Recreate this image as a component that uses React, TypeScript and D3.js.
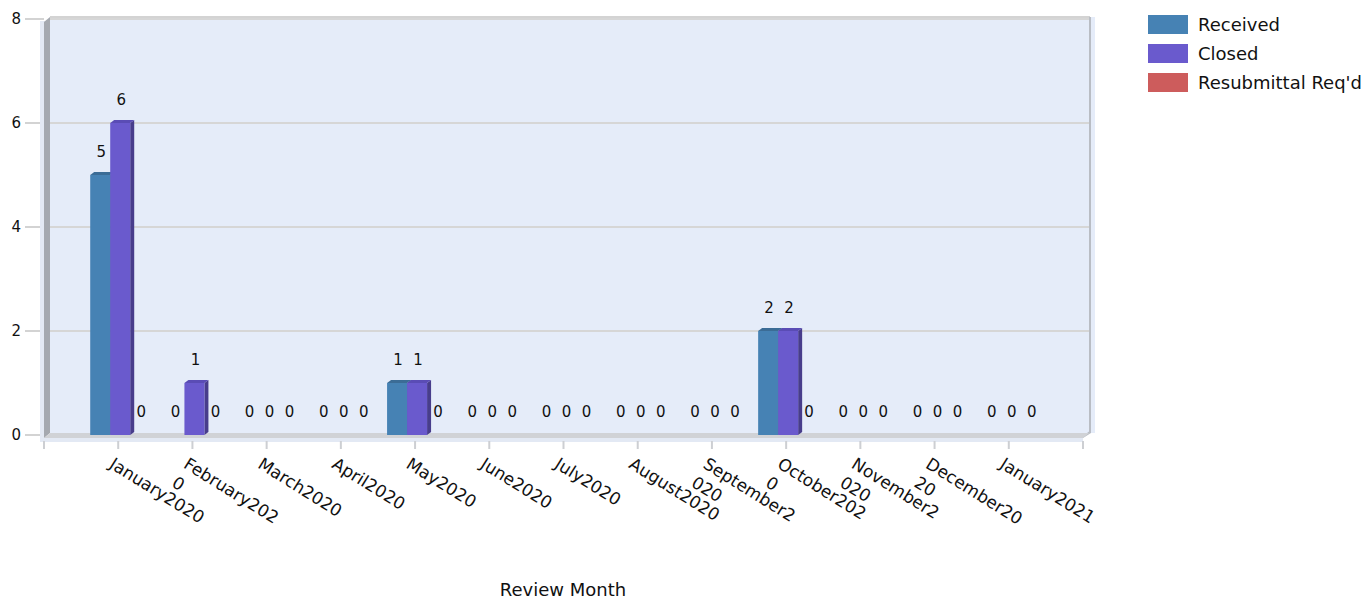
import React from 'react';
import * as d3 from 'd3';

// months on the x axis, with the wrapped lines the chart shows for each
const months = [
  'January2020', 'February2020', 'March2020', 'April2020', 'May2020', 'June2020', 'July2020',
  'August2020', 'September2020', 'October2020', 'November2020', 'December2020', 'January2021',
];
const monthLines = [
  ['January2020'], ['February202', '0'], ['March2020'], ['April2020'], ['May2020'], ['June2020'],
  ['July2020'], ['August2020'], ['September2', '020'], ['October202', '0'], ['November2', '020'],
  ['December20', '20'], ['January2021'],
];

const received = [5, 0, 0, 0, 1, 0, 0, 0, 0, 2, 0, 0, 0];
const closed = [6, 1, 0, 0, 1, 0, 0, 0, 0, 2, 0, 0, 0];
const resubmittal = [0, 0, 0, 0, 0, 0, 0, 0, 0, 0, 0, 0, 0];

const yTicks = [0, 2, 4, 6, 8];

const series = [
  { name: 'Received', values: received, color: '#4682B4', side: '#36648B', top: '#3B6C96' },
  { name: 'Closed', values: closed, color: '#6A5ACD', side: '#483D8B', top: '#5A4CB5' },
  { name: "Resubmittal Req'd", values: resubmittal, color: '#CD5C5C', side: '#9E4444', top: '#B55050' },
];

const W = 1370;
const H = 602;
const FONT = '"DejaVu Sans", Verdana, sans-serif';

export default function App() {
  // front plane (floor edge, ticks) vs back wall: 3D offset
  const dx = 6;
  const dy = 5;
  const left = 44;
  const right = 1083;
  const top = 17;
  const bottom = 438;

  const x = d3.scaleLinear().domain([0, months.length + 1]).range([left, right]);
  const y = d3.scaleLinear().domain([0, 8]).range([435, 19]);
  const barW = 20;
  const depthX = 4;
  const depthY = 3;

  return (
    <svg width={W} height={H} style={{ position: 'absolute', left: 0, top: 0, background: '#fff' }} fontFamily={FONT}>
      {/* back wall */}
      <rect x={left + dx} y={top} width={right + dx - left} height={bottom - dy - top} fill="#E5ECF9" />
      <line x1={left + dx} x2={right + dx + 1} y1={top} y2={top} stroke="#D3D3D3" strokeWidth={2} />
      {yTicks.slice(1).map((t) => (
        <g key={t}>
          <line x1={left + dx} x2={right + dx} y1={y(t)} y2={y(t)} stroke="#D6D6D6" strokeWidth={2} />
          <line x1={25} x2={left} y1={y(t)} y2={y(t)} stroke="#D3D3D3" strokeWidth={2} />
        </g>
      ))}
      <line x1={25} x2={left} y1={y(0)} y2={y(0)} stroke="#D3D3D3" strokeWidth={2} />
      {/* right edge */}
      <line x1={right + dx + 1} x2={right + dx + 1} y1={top} y2={bottom - dy} stroke="#B9BDC4" strokeWidth={2} />
      <polygon
        points={`${right},${bottom} ${right + dx + 2},${bottom - dy} ${right + dx + 2},${bottom - dy - 3} ${right},${bottom - 2}`}
        fill="#B9BDC4"
      />
      {/* left wall */}
      <rect x={left - 4} y={top + 4} width={5} height={bottom - top} fill="#E3E9F4" />
      <polygon
        points={`${left},${top + dy} ${left + dx},${top} ${left + dx},${bottom - dy} ${left},${bottom}`}
        fill="#A5A9B0"
      />
      {/* floor */}
      <polygon
        points={`${left},${bottom} ${left + dx},${bottom - dy} ${right + dx},${bottom - dy} ${right},${bottom}`}
        fill="#D0D2D6"
      />
      <rect x={left - 4} y={bottom} width={right - left + 4} height={4} fill="#E3E9F4" />

      {/* x ticks */}
      {d3.range(0, months.length + 2).map((i) => (
        <line key={i} x1={x(i)} x2={x(i)} y1={bottom + 3} y2={bottom + 11} stroke="#CDCFD3" strokeWidth={2} />
      ))}

      {/* bars */}
      {months.map((m, k) => {
        const cx = x(k + 1) + 2;
        const x0 = cx - (barW * series.length) / 2;
        return (
          <g key={m}>
            {series.map((s, j) => {
              const v = s.values[k];
              const bx = x0 + j * barW;
              const by = y(v);
              const base = y(0);
              return (
                <g key={s.name}>
                  {v > 0 && (
                    <>
                      <polygon
                        points={`${bx + barW},${by} ${bx + barW + depthX},${by - depthY} ${bx + barW + depthX},${base - depthY} ${bx + barW},${base}`}
                        fill={s.side}
                      />
                      <polygon
                        points={`${bx},${by} ${bx + depthX},${by - depthY} ${bx + barW + depthX},${by - depthY} ${bx + barW},${by}`}
                        fill={s.top}
                      />
                      <rect x={bx} y={by} width={barW} height={base - by} fill={s.color} />
                    </>
                  )}
                  <text x={bx + barW / 2 + 1} y={by - 18} textAnchor="middle" fontSize={15} fill="#111">
                    {v}
                  </text>
                </g>
              );
            })}
          </g>
        );
      })}

      {/* y tick labels */}
      {yTicks.map((t) => (
        <text key={t} x={21} y={y(t)} dy="0.35em" textAnchor="end" fontSize={15} fill="#111">
          {t}
        </text>
      ))}

      {/* x tick labels */}
      {monthLines.map((lines, k) => (
        <g key={k} transform={`translate(${x(k + 1) - 10},${467}) rotate(32)`}>
          {lines.map((ln, li) => (
            <text key={li} x={0} y={li * 22} fontSize={17} fill="#111">
              {ln}
            </text>
          ))}
        </g>
      ))}

      <text x={563} y={596} textAnchor="middle" fontSize={18} fill="#111">
        Review Month
      </text>

      {/* legend */}
      {series.map((s, i) => (
        <g key={s.name} transform={`translate(1148,${15 + i * 29})`}>
          <rect width={40} height={19} fill={s.color} />
          <text x={50} y={9.5} dy="0.36em" fontSize={18} fill="#111">
            {s.name}
          </text>
        </g>
      ))}
    </svg>
  );
}
